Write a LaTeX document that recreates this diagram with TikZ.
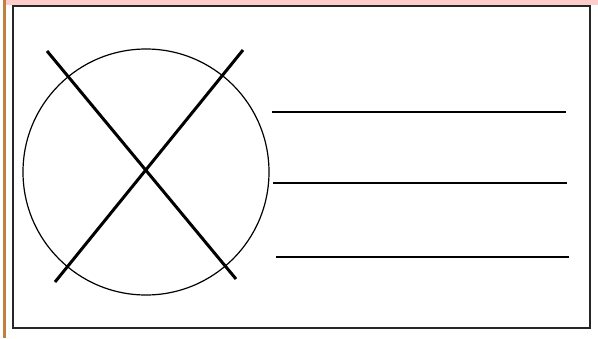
\documentclass[tikz,border=0pt]{standalone}
\usepackage{tikz}
\usetikzlibrary{positioning,calc}

\begin{document}
\begin{tikzpicture}[x=1pt,y=-1pt]
\useasboundingbox (0,0) rectangle (598,338);
\fill[red!20] (5,0) rectangle (598,5);
\draw[brown, line width=2.6pt] (4.5,0) -- (4.5,338);
\draw[black!85, line width=1.6pt] (13,6) rectangle (590,328);
\node[draw, circle, line width=1.2pt, minimum size=246pt, inner sep=0pt] (disc) at (146,172) {};
\draw[line width=3pt] (47,51) -- (236,279);
\draw[line width=3pt] (243,50) -- (55,282);
\foreach \y/\a/\b in {112/272/566,183/273/567,257/276/569} {
  \draw[line width=1.8pt] (\a,\y) -- (\b,\y);
}
\end{tikzpicture}
\end{document}
